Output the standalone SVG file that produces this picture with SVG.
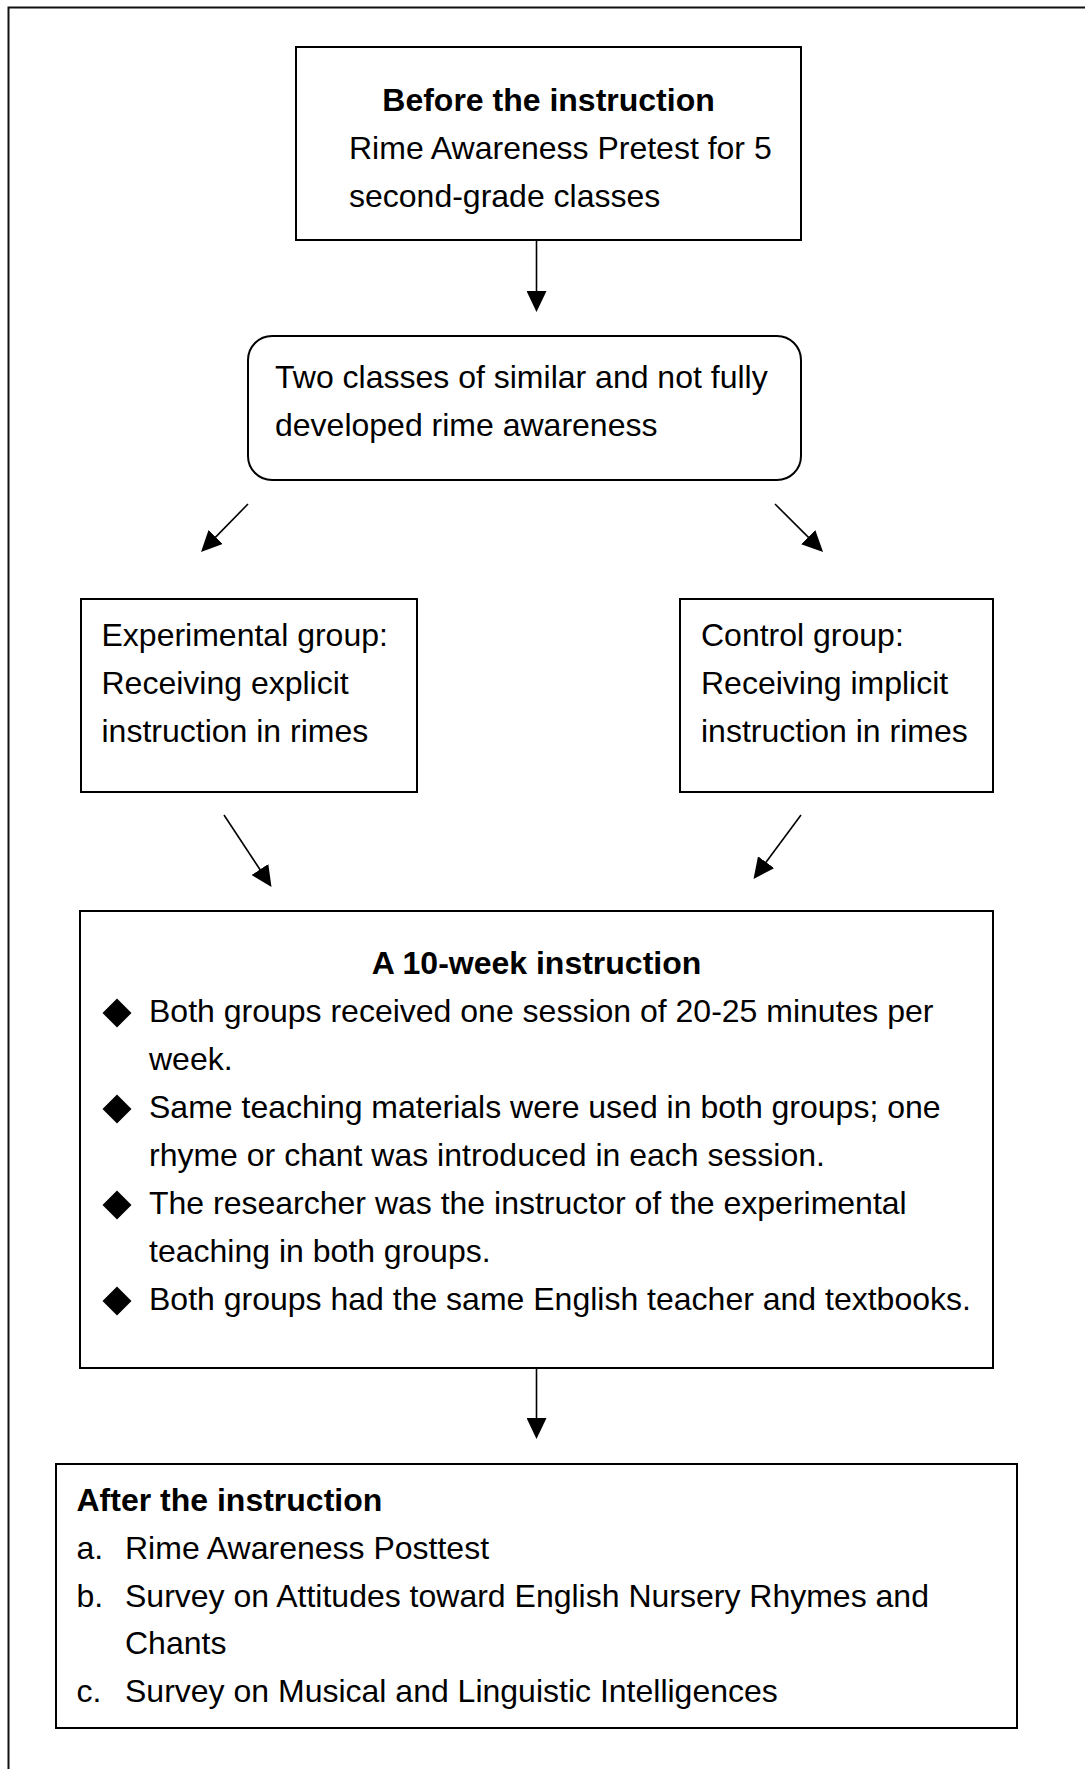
<svg xmlns="http://www.w3.org/2000/svg" width="1085" height="1769" viewBox="0 0 1085 1769">
<style>
.box{fill:#fff;stroke:#000;stroke-width:2}
.t{font-family:"Liberation Sans",Arial,sans-serif;font-size:32px;fill:#000}
.b{font-weight:bold}
.c{text-anchor:middle}
.ln{stroke:#000;stroke-width:1.6;fill:none}
.frame{stroke:#111;stroke-width:2;fill:none}
</style>
<defs>
<marker id="ah" markerUnits="userSpaceOnUse" markerWidth="22" markerHeight="20" refX="11" refY="10" orient="auto">
<path d="M0,0 L21,10 L0,20 z" fill="#000"/>
</marker>
<polygon id="dia" points="0,-14.5 14.5,0 0,14.5 -14.5,0" fill="#000"/>
</defs>
<rect x="0" y="0" width="1085" height="1769" fill="#fff"/>
<path class="frame" d="M8.5,1769 V7.5 H1085"/>
<g id="before">
<rect class="box" x="296" y="47" width="505" height="193"/>
<text class="t b c" x="548.5" y="111">Before the instruction</text>
<text class="t" x="349" y="159">Rime Awareness Pretest for 5</text>
<text class="t" x="349" y="207">second-grade classes</text>
</g>
<g id="twoclasses">
<rect class="box" x="248" y="336" width="553" height="144" rx="24" ry="24"/>
<text class="t" x="275" y="388">Two classes of similar and not fully</text>
<text class="t" x="275" y="436">developed rime awareness</text>
</g>
<g id="experimental">
<rect class="box" x="81" y="599" width="336" height="193"/>
<text class="t" x="101.5" y="646">Experimental group:</text>
<text class="t" x="101.5" y="694">Receiving explicit</text>
<text class="t" x="101.5" y="742">instruction in rimes</text>
</g>
<g id="control">
<rect class="box" x="680" y="599" width="313" height="193"/>
<text class="t" x="701" y="646">Control group:</text>
<text class="t" x="701" y="694">Receiving implicit</text>
<text class="t" x="701" y="742">instruction in rimes</text>
</g>
<g id="tenweek">
<rect class="box" x="80" y="911" width="913" height="457"/>
<text class="t b c" x="536.5" y="974">A 10-week instruction</text>
<use href="#dia" x="117" y="1013"/>
<text class="t" x="149" y="1022">Both groups received one session of 20-25 minutes per</text>
<text class="t" x="149" y="1070">week.</text>
<use href="#dia" x="117" y="1109"/>
<text class="t" x="149" y="1118">Same teaching materials were used in both groups; one</text>
<text class="t" x="149" y="1166">rhyme or chant was introduced in each session.</text>
<use href="#dia" x="117" y="1205"/>
<text class="t" x="149" y="1214">The researcher was the instructor of the experimental</text>
<text class="t" x="149" y="1262">teaching in both groups.</text>
<use href="#dia" x="117" y="1301"/>
<text class="t" x="149" y="1310">Both groups had the same English teacher and textbooks.</text>
</g>
<g id="after">
<rect class="box" x="56" y="1464" width="961" height="264"/>
<text class="t b" x="76.5" y="1511">After the instruction</text>
<text class="t" x="76.5" y="1559">a.</text>
<text class="t" x="125" y="1559">Rime Awareness Posttest</text>
<text class="t" x="76.5" y="1607">b.</text>
<text class="t" x="125" y="1607">Survey on Attitudes toward English Nursery Rhymes and</text>
<text class="t" x="125" y="1654">Chants</text>
<text class="t" x="76.5" y="1702">c.</text>
<text class="t" x="125" y="1702">Survey on Musical and Linguistic Intelligences</text>
</g>
<g id="connectors">
<line class="ln" x1="536.5" y1="240" x2="536.5" y2="302" marker-end="url(#ah)"/>
<line class="ln" x1="248" y1="504" x2="208" y2="544.9" marker-end="url(#ah)"/>
<line class="ln" x1="775" y1="504" x2="816" y2="544.9" marker-end="url(#ah)"/>
<line class="ln" x1="224" y1="815" x2="266" y2="878.7" marker-end="url(#ah)"/>
<line class="ln" x1="801" y1="815" x2="759.5" y2="871" marker-end="url(#ah)"/>
<line class="ln" x1="536.5" y1="1368" x2="536.5" y2="1429" marker-end="url(#ah)"/>
</g>
</svg>
